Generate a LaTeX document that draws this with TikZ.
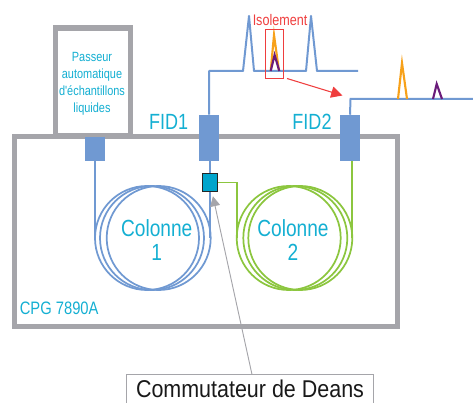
\documentclass[tikz,border=0pt]{standalone}
\usepackage{fontspec}
\usetikzlibrary{arrows.meta,calc}
\setmainfont{Liberation Sans}
\newfontfamily\condf[FakeStretch=.82]{Liberation Sans}
\newfontfamily\condg[FakeStretch=.885]{Liberation Sans}
\definecolor{frameg}{HTML}{A5A5AA}
\definecolor{bluec}{HTML}{7099D2}
\definecolor{greenc}{HTML}{8CC63F}
\definecolor{tealt}{HTML}{14AFD2}
\definecolor{teals}{HTML}{00A5CC}
\definecolor{orangep}{HTML}{F7A11A}
\definecolor{purplep}{HTML}{6A1B7A}
\definecolor{redi}{HTML}{EF3E3E}
\tikzset{
  frameline/.style={draw=frameg,line width=3.9pt,fill=white,miter limit=10},
  blockn/.style={fill=bluec,inner sep=0pt,minimum width=15pt},
  coilb/.style={draw=bluec,line width=1.3pt},
  coilg/.style={draw=greenc,line width=1.3pt},
  tubeb/.style={draw=bluec,line width=1.3pt},
  tubeg/.style={draw=greenc,line width=1.3pt},
  sigb/.style={draw=bluec,line width=1.5pt},
  sigo/.style={draw=orangep,line width=1.6pt},
  sigp/.style={draw=purplep,line width=1.6pt},
  lab/.style={text=tealt,inner sep=0pt,align=center},
  biglab/.style={lab,font=\condf\fontsize{16.5}{18}\selectfont},
}
\begin{document}
\begin{tikzpicture}[x=.75pt,y=-.75pt]
\useasboundingbox (0,0) rectangle (473,402);
% frames
\draw[frameline] (55.7,136) -- (55.7,28) -- (130.3,28) -- (130.3,136) -- cycle;
\draw[draw=frameg,line width=3.9pt,miter limit=10] (14.6,136.6) rectangle (397.4,326.4);
% blocks
\node[blockn,minimum height=18pt] (inj) at (95,149) {};
\node[blockn,minimum height=34.5pt] (fid1) at (209,138) {};
\node[blockn,minimum height=34.5pt] (fid2) at (350,138) {};
% coils
\foreach \c in {147,152,158.7} \draw[coilb] (\c,238) circle[radius=52];
\foreach \c in {288.7,295.3,300.3} \draw[coilg] (\c,238) circle[radius=52];
% tubes
\draw[tubeb] (inj.south) -- (95,238);
\draw[tubeb] ([xshift=.75pt]fid1.south) -- (210,238);
\draw[tubeg] ([xshift=1.5pt]fid2.south) -- (352,238);
% switch
\node[fill=teals,draw=black!85,line width=1.1pt,inner sep=0pt,minimum width=11.5pt,minimum height=13.5pt] (sw) at (210,182.5) {};
\draw[tubeg] (sw.east) -- (237,182.5) -- (237,238);
% chromatogram FID1
\draw[sigb,line join=round] (fid1.north) -- (209,71) -- (243,71) -- (249,16) -- (254,71) -- (306,71) -- (311,16) -- (317,71) -- (358,71);
\draw[sigo] (270.7,71) -- (274,35) -- (279,71);
\draw[sigp] (270.7,71) -- (274.6,55) -- (279.3,71);
% chromatogram FID2
\draw[sigb] (fid2.north) -- (350.5,99) -- (473,99);
\draw[sigo] (398,99) -- (402,63) -- (407,99);
\draw[sigp] (433,99) -- (436.7,84) -- (442,99);
% isolation
\draw[redi,line width=.7pt] (265.3,29.7) rectangle (283.3,78.7);
\coordinate (arrs) at (287,78.5);
\coordinate (arre) at (342.5,95.5);
\draw[redi,line width=.8pt,-{Triangle[length=8.5pt,width=8.5pt]}] (arrs) -- (arre);
\node[text=redi,inner sep=0pt,font=\condf\fontsize{11.5}{13}\selectfont] (iso) at (280,20) {Isolement};
% labels
\node[lab,font=\condf\fontsize{10}{12.75}\selectfont] (pass) at (92,84) {Passeur\\automatique\\d'échantillons\\liquides};
\node[biglab] (f1) at (168.7,122) {FID1};
\node[biglab] (f2) at (312,122) {FID2};
\node[lab,font=\condf\fontsize{17.5}{18}\selectfont] (c1) at (156.7,240) {Colonne\\1};
\node[lab,font=\condf\fontsize{17.5}{18}\selectfont] (c2) at (293,240) {Colonne\\2};
\node[lab,font=\condf\fontsize{13.5}{15}\selectfont,anchor=west] (cpg) at (19.5,308) {CPG 7890A};
% Deans
\node[anchor=south,inner sep=0pt,minimum width=184.5pt,text height=17.2pt,text depth=0pt,text=black!90,font=\condg\fontsize{18.2}{20}\selectfont] (deans) at (250,398) {Commutateur de Deans};
\draw[frameg,line width=.7pt] ([yshift=-3.5pt]deans.south west) -- (deans.north west) -- (deans.north east) -- ([yshift=-3.5pt]deans.south east);
\draw[frameg,line width=.7pt,-{Triangle[length=7.5pt,width=7.5pt]}] ([xshift=1.5pt]deans.north) -- ([xshift=2.2pt,yshift=-3pt]sw.south);
\end{tikzpicture}
\end{document}
